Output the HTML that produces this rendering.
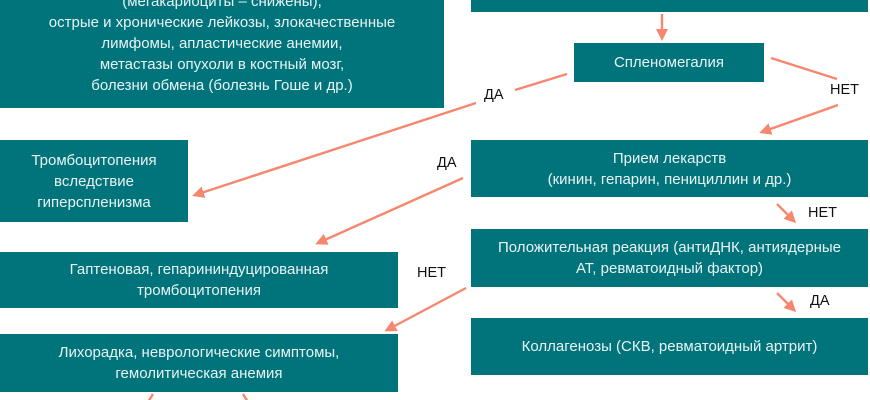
<!DOCTYPE html>
<html><head><meta charset="utf-8"><style>
body{margin:0;width:870px;height:400px;background:#fff;position:relative;overflow:hidden;font-family:"Liberation Sans","DejaVu Sans",sans-serif}
.b{position:absolute;background:#00737b;display:flex;align-items:center;justify-content:center;text-align:center;font-size:15px;line-height:21px;color:#e8f4f4}
.l{position:absolute;font-size:14.5px;color:#111}
svg{position:absolute;left:0;top:0}
</style></head><body>
<div class="b" style="left:0;top:-20px;width:444px;height:128px;align-items:flex-end"><div style="padding-bottom:12px">(мегакариоциты – снижены),<br>острые и хронические лейкозы, злокачественные<br>лимфомы, апластические анемии,<br>метастазы опухоли в костный мозг,<br>болезни обмена (болезнь Гоше и др.)</div></div>
<div class="b" style="left:471px;top:-20px;width:397px;height:32px"></div>
<div class="b" style="left:574px;top:43px;width:190px;height:39px">Спленомегалия</div>
<div class="b" style="left:0;top:140px;width:188px;height:82px">Тромбоцитопения<br>вследствие<br>гиперспленизма</div>
<div class="b" style="left:0;top:252px;width:398px;height:56px">Гаптеновая, гепарининдуцированная<br>тромбоцитопения</div>
<div class="b" style="left:0;top:334px;width:398px;height:58px">Лихорадка, неврологические симптомы,<br>гемолитическая анемия</div>
<div class="b" style="left:471px;top:140px;width:397px;height:57px">Прием лекарств<br>(кинин, гепарин, пенициллин и др.)</div>
<div class="b" style="left:471px;top:229px;width:397px;height:58px">Положительная реакция (антиДНК, антиядерные<br>АТ, ревматоидный фактор)</div>
<div class="b" style="left:471px;top:318px;width:397px;height:57px">Коллагенозы (СКВ, ревматоидный артрит)</div>
<div class="l" style="left:484px;top:87px">ДА</div>
<div class="l" style="left:830px;top:82px">НЕТ</div>
<div class="l" style="left:437px;top:155px">ДА</div>
<div class="l" style="left:417px;top:265px">НЕТ</div>
<div class="l" style="left:808px;top:205px">НЕТ</div>
<div class="l" style="left:810px;top:293px">ДА</div>
<svg width="870" height="400"><defs><marker id="a" markerWidth="12" markerHeight="12" refX="9" refY="6" orient="auto" markerUnits="userSpaceOnUse"><path d="M0,0L12,6L0,12z" fill="#f6876f"/></marker></defs>
<g stroke="#f6876f" stroke-width="2.4" fill="none">
<line x1="662" y1="14" x2="662" y2="38" marker-end="url(#a)"/>
<line x1="567" y1="74" x2="515" y2="90"/>
<line x1="476" y1="103" x2="195" y2="195" marker-end="url(#a)"/>
<line x1="771" y1="58" x2="837" y2="79"/>
<line x1="838" y1="105" x2="762" y2="132" marker-end="url(#a)"/>
<line x1="463" y1="178" x2="318" y2="243" marker-end="url(#a)"/>
<line x1="466" y1="288" x2="387" y2="330" marker-end="url(#a)"/>
<line x1="777" y1="204" x2="794" y2="221" marker-end="url(#a)"/>
<line x1="777" y1="293" x2="794" y2="310" marker-end="url(#a)"/>
<line x1="153" y1="394" x2="148" y2="402"/>
<line x1="243" y1="394" x2="248" y2="402"/>
</g></svg>
</body></html>
